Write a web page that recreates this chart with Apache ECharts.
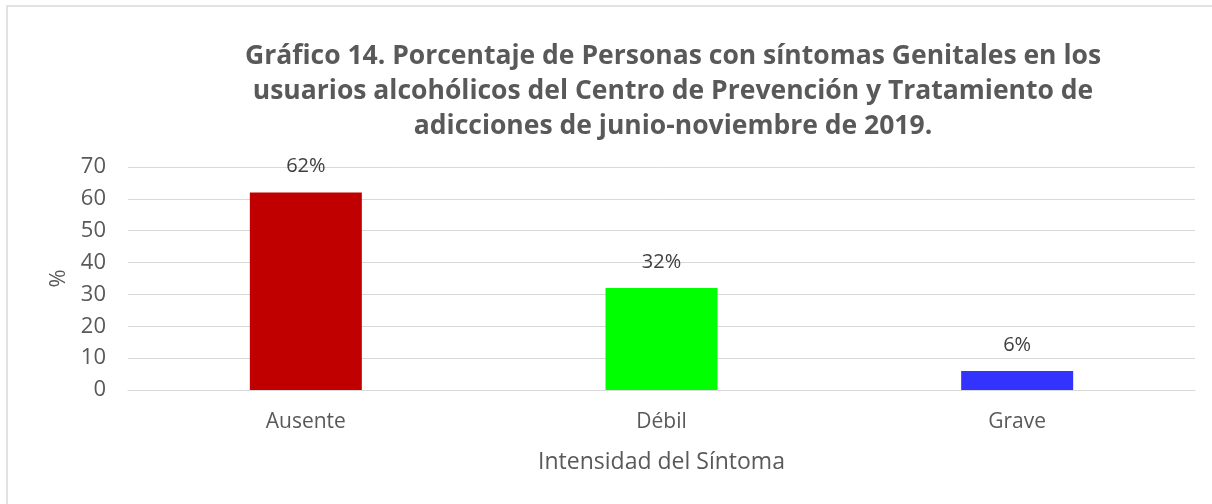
<!DOCTYPE html>
<html>
<head>
<meta charset="utf-8">
<script src="https://cdn.jsdelivr.net/npm/echarts@6/dist/echarts.min.js"></script>
<style>
  html, body { margin: 0; padding: 0; background: #fff; }
  #chart { width: 1212px; height: 504px; }
</style>
</head>
<body>
<div id="chart"></div>
<script>
// Symptom intensity categories and the share of people in each
const categories = ['Ausente', 'Débil', 'Grave'];
const values = [62, 32, 6];
const barColors = ['#C00000', '#00FF00', '#3333FF'];
const yTicks = { min: 0, max: 70, interval: 10 };

const titleText = 'Gráfico 14. Porcentaje de Personas con síntomas Genitales en los\n' +
  'usuarios alcohólicos del Centro de Prevención y Tratamiento de\n' +
  'adicciones de junio-noviembre de 2019.';

const FONT = '"Open Sans", sans-serif';
const chart = echarts.init(document.getElementById('chart'), null, { renderer: 'canvas' });

chart.setOption({
  backgroundColor: '#fff',
  animation: false,
  graphic: [{
    type: 'rect',
    shape: { x: 7, y: 6, width: 1220, height: 520 },
    style: { fill: 'none', stroke: '#D9D9D9', lineWidth: 1.5 },
    silent: true
  }],
  title: {
    text: titleText,
    left: 668,
    top: 34,
    textAlign: 'center',
    textStyle: {
      fontFamily: FONT,
      fontWeight: 'bold',
      fontSize: 26.5,
      lineHeight: 35,
      color: '#595959'
    }
  },
  grid: { left: 128, right: 17, top: 167, bottom: 114, containLabel: false },
  xAxis: {
    type: 'category',
    data: categories,
    name: 'Intensidad del Síntoma',
    nameLocation: 'middle',
    nameGap: 61,
    nameTextStyle: { fontFamily: FONT, fontSize: 23, color: '#595959' },
    axisLine: { show: true, lineStyle: { color: '#D9D9D9', width: 1 } },
    axisTick: { show: false },
    axisLabel: { fontFamily: FONT, fontSize: 21, color: '#595959', margin: 22 }
  },
  yAxis: {
    type: 'value',
    min: yTicks.min,
    max: yTicks.max,
    interval: yTicks.interval,
    name: '%',
    nameLocation: 'middle',
    nameGap: 57,
    nameRotate: 90,
    nameTextStyle: { fontFamily: FONT, fontSize: 22, color: '#595959' },
    axisLine: { show: false },
    axisTick: { show: false },
    axisLabel: { fontFamily: FONT, fontSize: 22, color: '#595959', margin: 22 },
    splitLine: { lineStyle: { color: '#D9D9D9', width: 1 } }
  },
  series: [{
    type: 'bar',
    data: values.map((v, i) => ({ value: v, itemStyle: { color: barColors[i] } })),
    barWidth: 112,
    label: {
      show: true,
      position: 'top',
      distance: 16,
      formatter: p => p.value + '%',
      fontFamily: FONT,
      fontSize: 20,
      color: '#404040'
    }
  }]
});
</script>
</body>
</html>
